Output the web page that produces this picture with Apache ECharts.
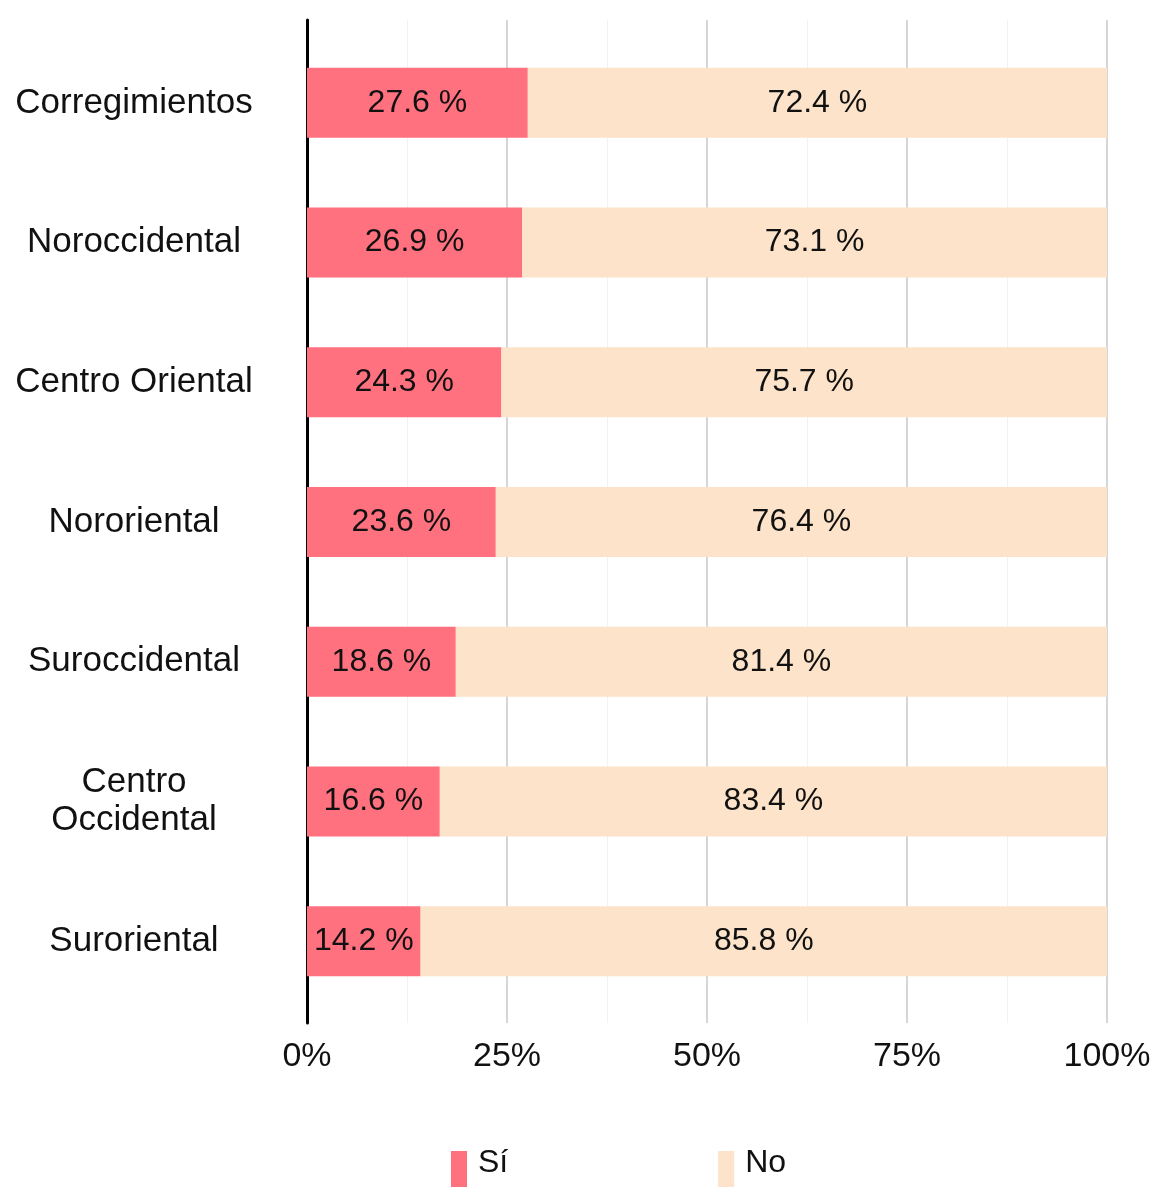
<!DOCTYPE html>
<html>
<head>
<meta charset="utf-8">
<script src="https://cdn.jsdelivr.net/npm/echarts@6/dist/echarts.min.js"></script>
<style>
  html, body { margin: 0; padding: 0; background: #fff; }
  #main { width: 1155px; height: 1187px; }
</style>
</head>
<body>
<div id="main"></div>
<script>
const comunas = ["Corregimientos", "Noroccidental", "Centro Oriental", "Nororiental",
  "Suroccidental", "Centro\nOccidental", "Suroriental"];
const si = [27.6, 26.9, 24.3, 23.6, 18.6, 16.6, 14.2];
const no = [72.4, 73.1, 75.7, 76.4, 81.4, 83.4, 85.8];
const xTicks = [0, 25, 50, 75, 100];

const FONT = "'Liberation Sans', Arial, sans-serif";
const chart = echarts.init(document.getElementById("main"));

chart.setOption({
  animation: false,
  textStyle: { fontFamily: FONT },
  grid: [
    { left: 307, width: 800, top: 20, height: 1003 },
    { left: 307, width: 800, top: 33, height: 978 }
  ],
  xAxis: [
    {
      gridIndex: 0, type: "value", min: xTicks[0], max: xTicks[xTicks.length - 1], interval: 25,
      axisLine: { show: false }, axisTick: { show: false },
      axisLabel: { fontSize: 34, color: "#111", margin: 17, formatter: "{value}%", fontFamily: FONT },
      splitLine: { show: true, lineStyle: { color: "#d6d6d6", width: 2 } },
      minorTick: { show: false, splitNumber: 2 },
      minorSplitLine: { show: true, lineStyle: { color: "#f2f2f2", width: 1 } }
    },
    {
      gridIndex: 1, type: "value", min: 0, max: 100, show: false
    }
  ],
  yAxis: [
    {
      gridIndex: 0, type: "value", min: 0, max: 1,
      axisLine: { show: true, lineStyle: { color: "#000", width: 3 } },
      axisTick: { show: false }, axisLabel: { show: false }, splitLine: { show: false }
    },
    {
      gridIndex: 1, type: "category", data: comunas, inverse: true,
      axisLine: { show: false }, axisTick: { show: false },
      axisLabel: { fontSize: 35, color: "#111", align: "center", margin: 173, lineHeight: 38,
        fontFamily: FONT }
    }
  ],
  legend: {
    left: 446, top: 1142,
    itemWidth: 16, itemHeight: 40, itemGap: 210,
    icon: "rect",
    formatter: name => "{a|" + name + "}\n{b| }",
    textStyle: {
      color: "#111", fontFamily: FONT,
      rich: {
        a: { fontSize: 32, lineHeight: 32, color: "#111", fontFamily: FONT, padding: [0, 0, 0, 6] },
        b: { fontSize: 10, lineHeight: 16 }
      }
    },
    data: ["Sí", "No"]
  },
  series: [
    {
      name: "Sí", type: "bar", stack: "t", xAxisIndex: 1, yAxisIndex: 1,
      data: si, barWidth: 70,
      itemStyle: { color: "#FF717F" },
      label: { show: true, position: "inside", fontSize: 32, color: "#111", fontFamily: FONT,
        formatter: p => p.value.toFixed(1) + " %" }
    },
    {
      name: "No", type: "bar", stack: "t", xAxisIndex: 1, yAxisIndex: 1,
      data: no, barWidth: 70,
      itemStyle: { color: "#FCE3C9" },
      label: { show: true, position: "inside", fontSize: 32, color: "#111", fontFamily: FONT,
        formatter: p => p.value.toFixed(1) + " %" }
    }
  ]
});
</script>
</body>
</html>
